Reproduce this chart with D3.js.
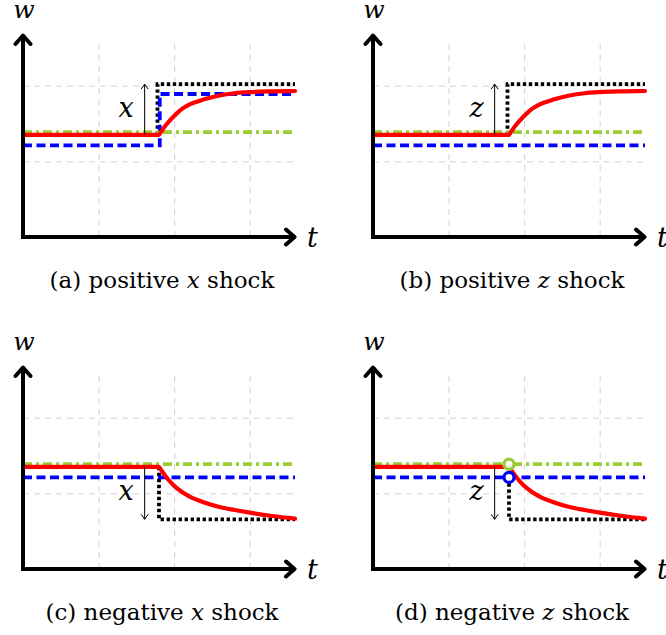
<!DOCTYPE html>
<html>
<head>
<meta charset="utf-8">
<script src="https://cdn.jsdelivr.net/npm/d3@7"></script>
<style>
  body { margin: 0; background: #fff; }
</style>
</head>
<body>
<div id="chart"></div>
<script>

// grid lines (integer positions)
const tTicks = [1, 2, 3];
const wTicks = [1, 2];
const tMax = 3.6, wMax = 2.67, gridTop = 2.6;

// captions
const captionTags = ["(a)", "(b)", "(c)", "(d)"];
const captionSigns = ["positive", "positive", "negative", "negative"];
const shockNames = ["x", "z", "x", "z"];

// flat levels before the shock
const greenT = [0, 3.6];
const greenW = [1.385, 1.385];
const redPreT = [0, 1.8];
const redPreW = [1.35, 1.35];
const blueFlatT = [0, 3.6];
const blueFlatW = [1.21, 1.21];

// blue after a positive x shock
const blueStepT = [0, 1.81, 1.81, 3.6];
const blueStepW = [1.21, 1.21, 1.89, 1.89];

// black dotted target
const blackUpT = [1.78, 1.78, 3.6];
const blackUpW = [1.35, 2.02, 2.02];
const blackDownT = [1.8, 1.8, 3.6];
const blackDownW = [1.35, 0.657, 0.657];
const blackDownZW = [1.21, 0.657, 0.657];

// red response after the shock
const redPostT = [1.8, 1.9, 2.0, 2.1, 2.2, 2.4, 2.6, 2.8, 3.0, 3.3, 3.6];
const redRiseW = [1.35, 1.49, 1.60, 1.69, 1.75, 1.82, 1.87, 1.90, 1.915, 1.925, 1.93];
const redFallW = [1.35, 1.21, 1.10, 1.02, 0.96, 0.88, 0.82, 0.78, 0.745, 0.70, 0.665];

// shock size arrows
const arrowT = 1.61;
const arrowFrom = [1.35, 1.35, 1.35, 1.35];
const arrowTo = [2.02, 2.02, 0.657, 0.657];

// open circles in (d)
const circleT = [1.8, 1.8];
const circleW = [1.385, 1.21];

const zip = (ts, ws) => ts.map((t, i) => [t, ws[i]]);

const panels = [
  { black: zip(blackUpT, blackUpW), blue: zip(blueStepT, blueStepW), red: zip(redPostT, redRiseW), circles: false },
  { black: zip(blackUpT, blackUpW), blue: zip(blueFlatT, blueFlatW), red: zip(redPostT, redRiseW), circles: false },
  { black: zip(blackDownT, blackDownW), blue: zip(blueFlatT, blueFlatW), red: zip(redPostT, redFallW), circles: false },
  { black: zip(blackDownT, blackDownZW), blue: zip(blueFlatT, blueFlatW), red: zip(redPostT, redFallW), circles: true }
];

const width = 666, height = 635;
const plotW = 272, plotH = 202;

const svg = d3.select("#chart")
              .append("svg")
              .attr("width", width)
              .attr("height", height);

const x = d3.scaleLinear().domain([0, tMax]).range([0, plotW]);
const y = d3.scaleLinear().domain([0, wMax]).range([plotH, 0]);

const line = d3.line().x(d => x(d[0])).y(d => y(d[1]));
const smooth = d3.line().x(d => x(d[0])).y(d => y(d[1])).curve(d3.curveMonotoneX);

const mathFont = "DejaVu Serif";
const textFont = "DejaVu Serif";

panels.forEach((p, i) => {
  const col = i % 2, row = Math.floor(i / 2);
  const g = svg.append("g")
               .attr("transform", `translate(${23 + col * 350},${35 + row * 332})`);

  // dashed help grid
  g.append("g")
    .attr("transform", `translate(0,${plotH})`)
    .call(d3.axisBottom(x).tickValues(tTicks).tickSize(-(plotH - y(gridTop))).tickFormat(""))
    .call(a => a.select(".domain").remove())
    .selectAll("line")
      .attr("stroke", "#d2d2d2")
      .attr("stroke-dasharray", "6,5");

  g.append("g")
    .call(d3.axisLeft(y).tickValues(wTicks).tickSize(-plotW).tickFormat(""))
    .call(a => a.select(".domain").remove())
    .selectAll("line")
      .attr("stroke", "#d2d2d2")
      .attr("stroke-dasharray", "6,5");

  // black dotted target
  g.append("path")
    .attr("d", line(p.black))
    .attr("fill", "none")
    .attr("stroke", "black")
    .attr("stroke-width", 3.8)
    .attr("stroke-dasharray", "3.4,2.6");

  // blue dashed
  g.append("path")
    .attr("d", line(p.blue))
    .attr("fill", "none")
    .attr("stroke", "#0000ff")
    .attr("stroke-width", 3.8)
    .attr("stroke-dasharray", "9,4.5");

  // green dash dot
  g.append("path")
    .attr("d", line(zip(greenT, greenW)))
    .attr("fill", "none")
    .attr("stroke", "#9acd32")
    .attr("stroke-width", 3.8)
    .attr("stroke-dasharray", "9,4,3,4");

  // red solid
  g.append("path")
    .attr("d", line(zip(redPreT, redPreW)))
    .attr("fill", "none")
    .attr("stroke", "#ff0000")
    .attr("stroke-width", 4.2);

  g.append("path")
    .attr("d", smooth(p.red))
    .attr("fill", "none")
    .attr("stroke", "#ff0000")
    .attr("stroke-width", 4.2)
    .attr("stroke-linecap", "round");

  // open circles at the shock
  if (p.circles) {
    g.selectAll("circle")
      .data(zip(circleT, circleW))
      .join("circle")
        .attr("cx", d => x(d[0]))
        .attr("cy", d => y(d[1]))
        .attr("r", 5)
        .attr("fill", "white")
        .attr("stroke", (d, k) => k === 0 ? "#9acd32" : "#0000ff")
        .attr("stroke-width", 3.2);
  }

  // shock size arrow
  const ax = x(arrowT), y0 = y(arrowFrom[i]), y1 = y(arrowTo[i]);
  const armDy = y1 < y0 ? 5 : -5;
  g.append("path")
    .attr("d", `M${ax},${y0}L${ax},${y1}M${ax - 3.5},${y1 + armDy}L${ax},${y1}L${ax + 3.5},${y1 + armDy}`)
    .attr("fill", "none")
    .attr("stroke", "black")
    .attr("stroke-width", 1);

  g.append("text")
    .attr("x", ax - 11)
    .attr("y", (y0 + y1) / 2 + 7)
    .attr("text-anchor", "end")
    .style("font-family", mathFont)
    .style("font-style", "italic")
    .style("font-size", "27px")
    .text(shockNames[i]);

  // axes with arrow heads
  g.append("path")
    .attr("d", `M0,1L0,${plotH}L${plotW - 1},${plotH}`)
    .attr("fill", "none")
    .attr("stroke", "black")
    .attr("stroke-width", 4);

  g.append("path")
    .attr("d", `M-7.5,9L0,0.5L7.5,9M${plotW - 9},${plotH - 7.5}L${plotW - 0.5},${plotH}L${plotW - 9},${plotH + 7.5}`)
    .attr("fill", "none")
    .attr("stroke", "black")
    .attr("stroke-width", 4)
    .attr("stroke-linecap", "round")
    .attr("stroke-linejoin", "round");

  g.append("text")
    .attr("x", 1)
    .attr("y", -17)
    .attr("text-anchor", "middle")
    .style("font-family", mathFont)
    .style("font-style", "italic")
    .style("font-size", "25px")
    .text("w");

  g.append("text")
    .attr("x", plotW + 12)
    .attr("y", plotH + 10)
    .style("font-family", mathFont)
    .style("font-style", "italic")
    .style("font-size", "27px")
    .text("t");

  // caption
  const cap = g.append("text")
    .attr("x", plotW / 2 + 3)
    .attr("y", plotH + 51)
    .attr("text-anchor", "middle")
    .style("font-family", textFont)
    .style("font-size", "23px");
  cap.append("tspan").text(captionTags[i] + " " + captionSigns[i] + " ");
  cap.append("tspan").style("font-family", mathFont).style("font-style", "italic").text(shockNames[i]);
  cap.append("tspan").text(" shock");
});

</script>
</body>
</html>
